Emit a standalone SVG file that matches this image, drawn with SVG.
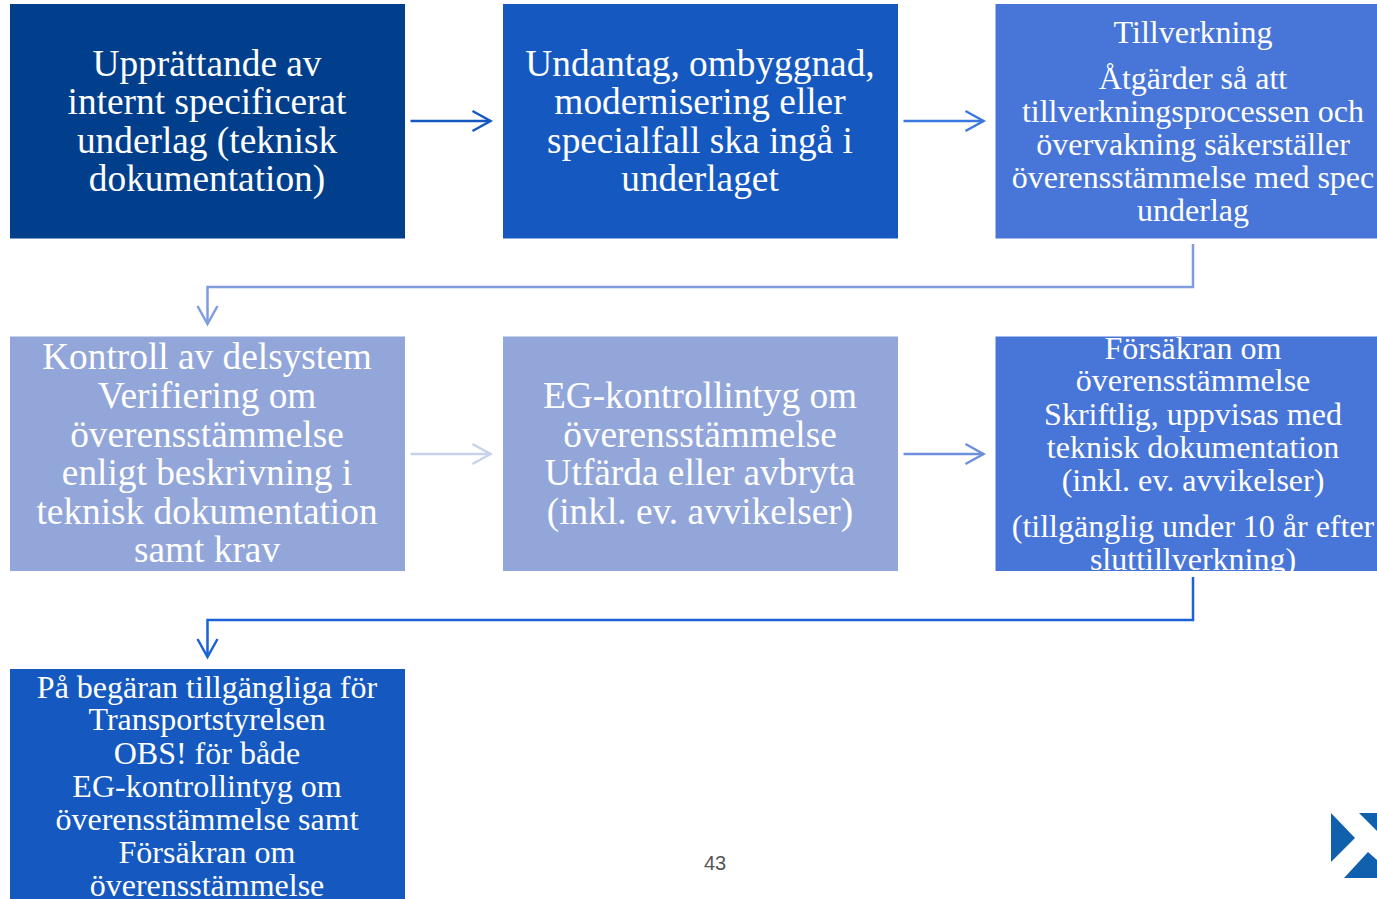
<svg xmlns="http://www.w3.org/2000/svg" width="1377" height="899" viewBox="0 0 1377 899">
<style>
.t{font-family:"Liberation Serif","Times New Roman",serif;fill:#fff;text-anchor:middle}
.a{font-size:37.330px}.b{font-size:32px}
.c{fill:none;stroke-width:2.500}
</style>
<rect width="1377" height="899" fill="#fff"/>
<g id="connectors">
<g class="c" stroke="#1559c0"><path d="M410.500 121H490.500"/><path d="M472.500 111L490.500 121L472.500 131"/></g>
<g class="c" stroke="#3b78e0"><path d="M903.500 121H983.500"/><path d="M965.500 111L983.500 121L965.500 131"/></g>
<g class="c" stroke="#7f9ee0"><path d="M1193 244V287H207.500V324"/><path d="M197.500 306L207.500 324L217.500 306"/></g>
<g class="c" stroke="#c8d2ec"><path d="M410.500 454H490.500"/><path d="M472.500 444L490.500 454L472.500 464"/></g>
<g class="c" stroke="#6f8fdc"><path d="M903.500 454H983.500"/><path d="M965.500 444L983.500 454L965.500 464"/></g>
<g class="c" stroke="#1a62d6"><path d="M1193 577V620H207.500V657"/><path d="M197.500 639L207.500 657L217.500 639"/></g>
</g>
<g id="n1"><rect x="10" y="4" width="395" height="234.500" fill="#013f8c"/>
<text class="t a"><tspan x="207" y="75.500">Upprättande av</tspan><tspan x="207" y="113.500">internt specificerat</tspan><tspan x="207" y="152.500">underlag (teknisk</tspan><tspan x="207" y="190.500">dokumentation)</tspan></text></g>
<g id="n2"><rect x="503" y="4" width="395" height="234.500" fill="#1559c0"/>
<text class="t a"><tspan x="700" y="75.500">Undantag, ombyggnad,</tspan><tspan x="700" y="113.500">modernisering eller</tspan><tspan x="700" y="152.500">specialfall ska ingå i</tspan><tspan x="700" y="190.500">underlaget</tspan></text></g>
<g id="n3"><rect x="995.500" y="4" width="381.500" height="234.500" fill="#4876d8"/>
<text class="t b"><tspan x="1193" y="42.500">Tillverkning</tspan><tspan x="1193" y="88.500">Åtgärder så att</tspan><tspan x="1193" y="121.500">tillverkningsprocessen och</tspan><tspan x="1193" y="154.500">övervakning säkerställer</tspan><tspan x="1193" y="187.500">överensstämmelse med spec</tspan><tspan x="1193" y="220.500">underlag</tspan></text></g>
<g id="n4"><rect x="10" y="336.500" width="395" height="234.500" fill="#93a6d9"/>
<text class="t a"><tspan x="207" y="368.500">Kontroll av delsystem</tspan><tspan x="207" y="407.500">Verifiering om</tspan><tspan x="207" y="446.500">överensstämmelse</tspan><tspan x="207" y="484.500">enligt beskrivning i</tspan><tspan x="207" y="523.500">teknisk dokumentation</tspan><tspan x="207" y="561.500">samt krav</tspan></text></g>
<g id="n5"><rect x="503" y="336.500" width="395" height="234.500" fill="#93a6d9"/>
<text class="t a"><tspan x="700" y="407.500">EG-kontrollintyg om</tspan><tspan x="700" y="446.500">överensstämmelse</tspan><tspan x="700" y="484.500">Utfärda eller avbryta</tspan><tspan x="700" y="523.500">(inkl. ev. avvikelser)</tspan></text></g>
<g id="n6"><rect x="995.500" y="336.500" width="381.500" height="234.500" fill="#4876d8"/>
<text class="t b"><tspan x="1193" y="358.500">Försäkran om</tspan><tspan x="1193" y="390.500">överensstämmelse</tspan><tspan x="1193" y="424.500">Skriftlig, uppvisas med</tspan><tspan x="1193" y="457.500">teknisk dokumentation</tspan><tspan x="1193" y="490.500">(inkl. ev. avvikelser)</tspan><tspan x="1193" y="536.500">(tillgänglig under 10 år efter</tspan><tspan x="1193" y="569.500">sluttillverkning)</tspan></text></g>
<g id="n7"><rect x="10" y="669" width="395" height="230" fill="#1559c0"/>
<text class="t b"><tspan x="207" y="697.500">På begäran tillgängliga för</tspan><tspan x="207" y="729.500">Transportstyrelsen</tspan><tspan x="207" y="763.500">OBS! för både</tspan><tspan x="207" y="796.500">EG-kontrollintyg om</tspan><tspan x="207" y="829.500">överensstämmelse samt</tspan><tspan x="207" y="862.500">Försäkran om</tspan><tspan x="207" y="895.500">överensstämmelse</tspan></text></g>
<text x="715" y="869.500" font-family="Liberation Sans,Arial,sans-serif" font-size="20" fill="#555" text-anchor="middle">43</text>
<path d="M1331 813L1355 838L1331 862Z M1359 813H1377V831Z M1368 852L1377 860V878H1344Z" fill="#1160ae"/>
</svg>
